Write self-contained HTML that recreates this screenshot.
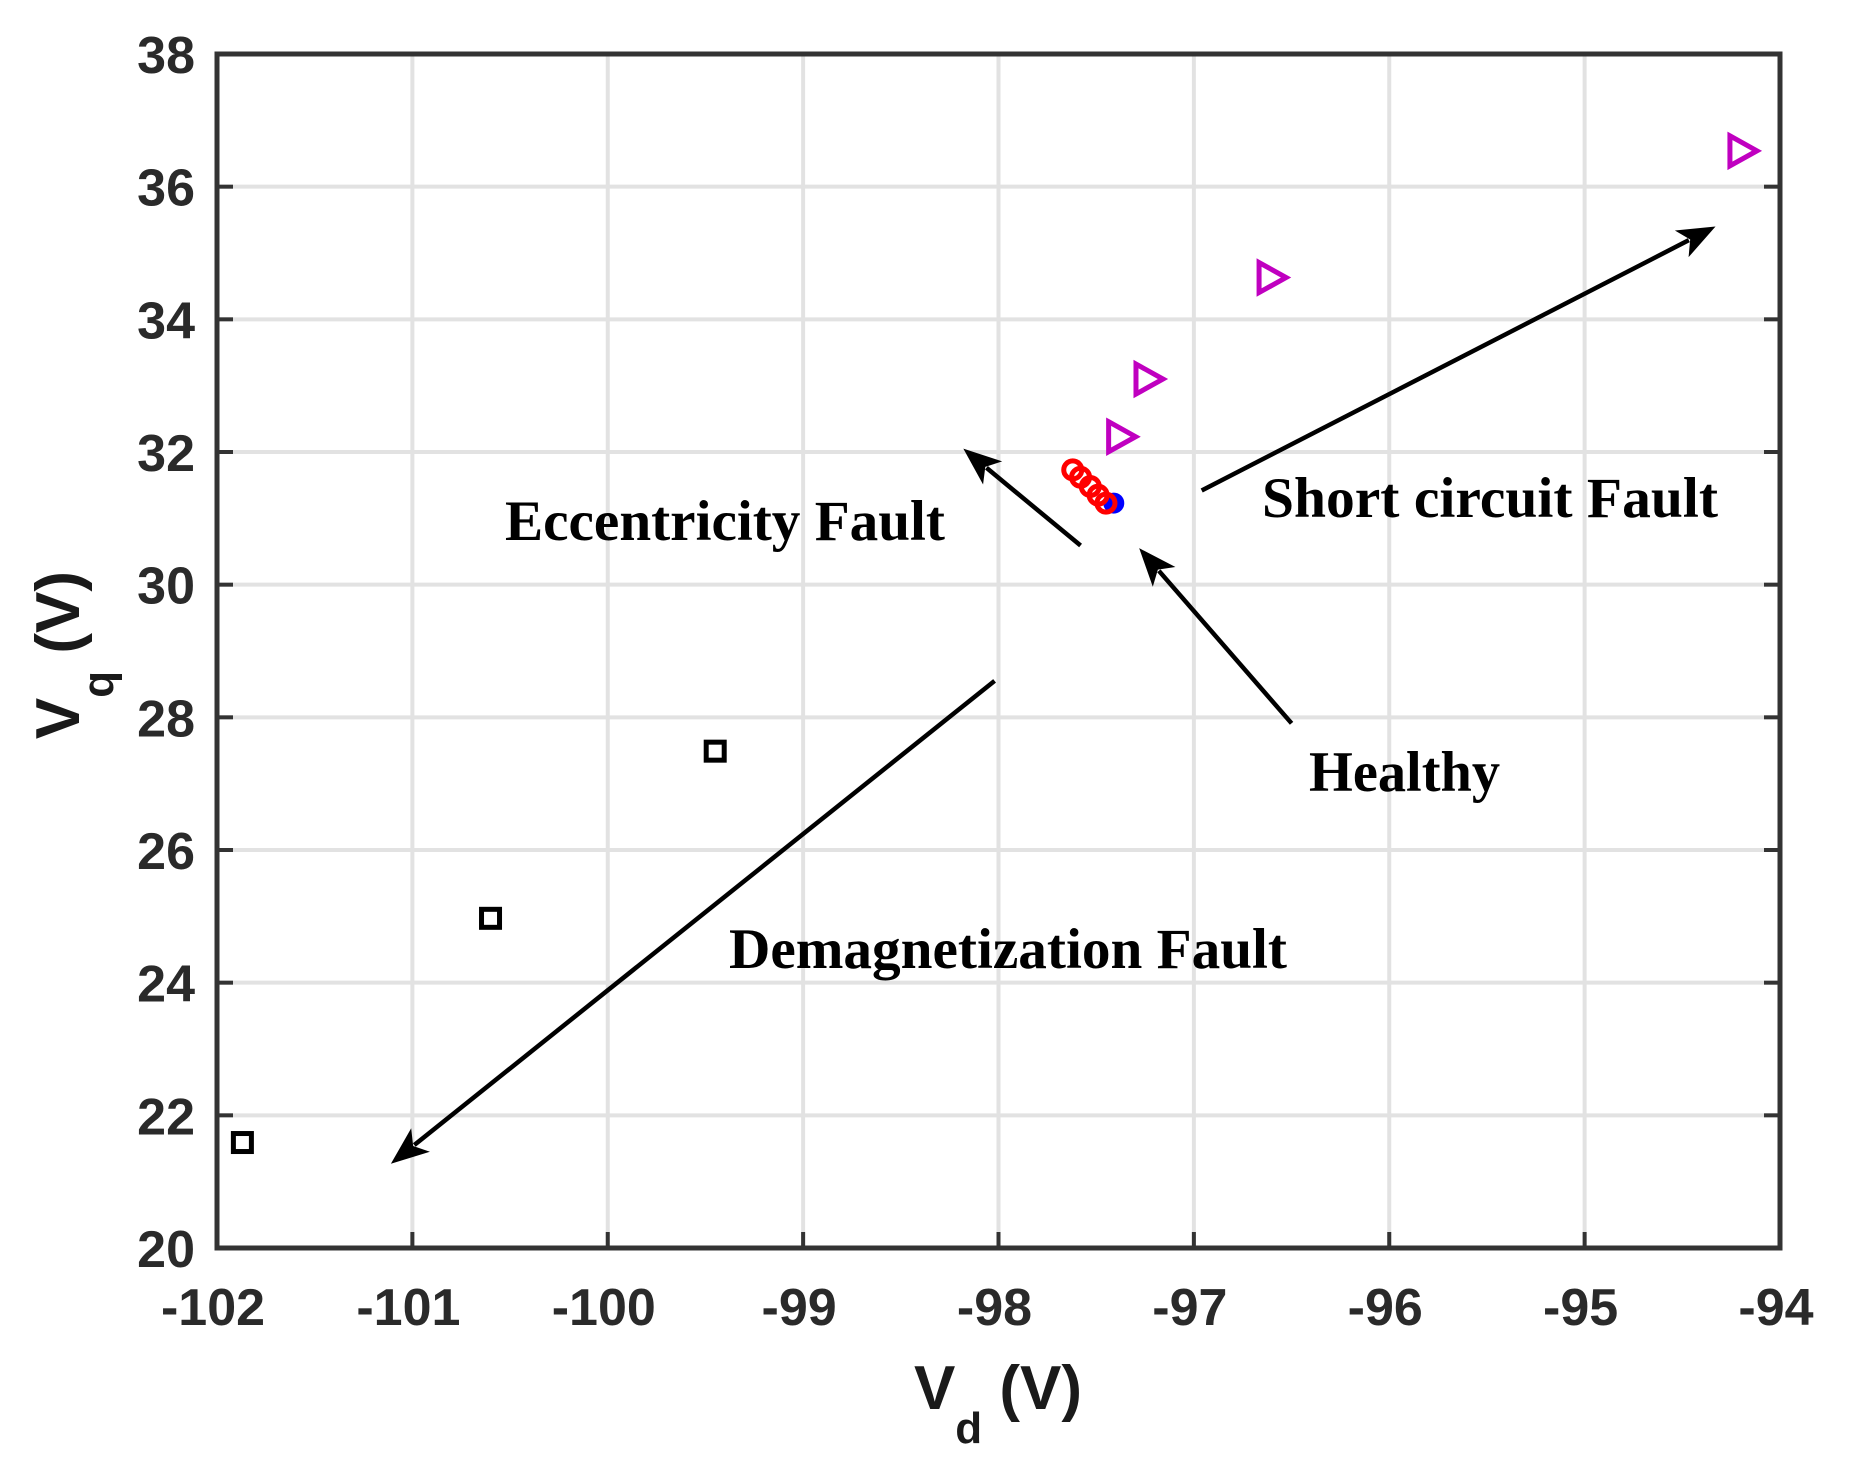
<!DOCTYPE html>
<html><head><meta charset="utf-8"><style>html,body{margin:0;padding:0;background:#fff}svg{display:block}</style></head>
<body>
<svg id="chart" width="1852" height="1472" viewBox="0 0 1852 1472" xmlns="http://www.w3.org/2000/svg">
<g id="grid"></g>
<g id="series"></g>
<g id="annot"></g>
<g id="axes"></g>
</svg>
<script>
const xTicks=[-102,-101,-100,-99,-98,-97,-96,-95,-94];
const yTicks=[20,22,24,26,28,30,32,34,36,38];
const shortX=[-94.20,-96.61,-97.24,-97.38];
const shortY=[36.54,34.63,33.10,32.23];
const demagX=[-101.87,-100.60,-99.45];
const demagY=[21.59,24.97,27.49];
const eccX=[-97.62,-97.58,-97.53,-97.49,-97.45];
const eccY=[31.73,31.62,31.48,31.35,31.23];
const healthyX=[-97.41];
const healthyY=[31.23];
const arrowLabels=["Short circuit Fault","Eccentricity Fault","Healthy","Demagnetization Fault"];
const arrowFromX=[-96.96,-97.58,-96.50,-98.02];
const arrowFromY=[31.42,30.59,27.91,28.55];
const arrowToX=[-94.33,-98.18,-97.28,-101.11];
const arrowToY=[35.40,32.05,30.55,21.27];

const L=217,R=1780,T=54,B=1248;
const xs=v=>L+(v+102)/8*(R-L);
const ys=v=>B-(v-20)/18*(B-T);
const NS="http://www.w3.org/2000/svg";
function mk(tag,attrs,parent){const e=document.createElementNS(NS,tag);for(const k in attrs)e.setAttribute(k,attrs[k]);parent.appendChild(e);return e;}
const grid=document.getElementById('grid'),series=document.getElementById('series'),annot=document.getElementById('annot'),axes=document.getElementById('axes');

xTicks.forEach(t=>{
  const g=mk('line',{x1:xs(t),x2:xs(t),y1:T,y2:B,stroke:'#e2e2e2','stroke-width':4},grid);
  
  
  const tk=mk('line',{x1:xs(t),x2:xs(t),y1:B,y2:B-16,stroke:'#333','stroke-width':4},axes);
  
  
  const tx=mk('text',{x:xs(t)-4,y:1325,'text-anchor':'middle','font-family':'Liberation Sans, sans-serif','font-weight':'bold','font-size':52,fill:'#2a2a2a'},axes);
  tx.textContent=t;
  
  
});
yTicks.forEach(t=>{
  const g=mk('line',{x1:L,x2:R,y1:ys(t),y2:ys(t),stroke:'#e2e2e2','stroke-width':4},grid);
  
  
  const tk=mk('line',{x1:L,x2:L+16,y1:ys(t),y2:ys(t),stroke:'#333','stroke-width':4},axes);
  
  
  const tk2=mk('line',{x1:R,x2:R-16,y1:ys(t),y2:ys(t),stroke:'#333','stroke-width':4},axes);
  
  
  const tx=mk('text',{x:195,y:ys(t)+19,'text-anchor':'end','font-family':'Liberation Sans, sans-serif','font-weight':'bold','font-size':52,fill:'#2a2a2a'},axes);
  tx.textContent=t;
  
  
});
const frame=mk('rect',{x:L,y:T,width:R-L,height:B-T,fill:'none',stroke:'#333','stroke-width':5},axes);



const xt=mk('text',{x:998,y:1409,'text-anchor':'middle','font-family':'Liberation Sans, sans-serif','font-weight':'bold','font-size':62,fill:'#1a1a1a'},axes);
xt.innerHTML='V<tspan dy="34" font-size="44">d</tspan><tspan dy="-34"> (V)</tspan>';


const yt=mk('text',{x:0,y:0,'text-anchor':'middle','font-family':'Liberation Sans, sans-serif','font-weight':'bold','font-size':62,fill:'#1a1a1a',transform:'translate(79,655) rotate(-90)'},axes);
yt.innerHTML='V<tspan dy="34" font-size="44">q</tspan><tspan dy="-34"> (V)</tspan>';



for(let i=0;i<demagX.length;i++){
  const cx=xs(demagX[i]),cy=ys(demagY[i]);
  const m=mk('rect',{x:cx-9,y:cy-9,width:18,height:18,fill:'none',stroke:'#000','stroke-width':5},series);
  
  
}
for(let i=0;i<shortX.length;i++){
  const cx=xs(shortX[i]),cy=ys(shortY[i]);
  const m=mk('polygon',{points:`${cx-11},${cy-15} ${cx+16},${cy} ${cx-11},${cy+15}`,fill:'none',stroke:'#c000c0','stroke-width':5},series);
  
  
}
for(let i=0;i<healthyX.length;i++){
  const m=mk('circle',{cx:xs(healthyX[i]),cy:ys(healthyY[i]),r:9,fill:'#0000ff',stroke:'#0000ff','stroke-width':3},series);
  
  
}
for(let i=0;i<eccX.length;i++){
  const m=mk('circle',{cx:xs(eccX[i]),cy:ys(eccY[i]),r:9,fill:'none',stroke:'#ff0000','stroke-width':5},series);
  
  
}

const labelPos=[[1262,517,456],[505,540,440],[1309,791,191],[729,968,558]];
const labelNames=['short-circuit-label','eccentricity-label','healthy-label','demagnetization-label'];
for(let i=0;i<arrowFromX.length;i++){
  const x1=xs(arrowFromX[i]),y1=ys(arrowFromY[i]),x2=xs(arrowToX[i]),y2=ys(arrowToY[i]);
  const a=Math.atan2(y2-y1,x2-x1),hl=38,hw=15;
  const bx=x2-hl*Math.cos(a),by=y2-hl*Math.sin(a);
  const ln=mk('line',{x1:x1,y1:y1,x2:bx+8*Math.cos(a),y2:by+8*Math.sin(a),stroke:'#000','stroke-width':4.5},annot);
  
  
  const px=-Math.sin(a),py=Math.cos(a);
  const hd=mk('polygon',{points:`${x2},${y2} ${bx+hw*px},${by+hw*py} ${bx+0.25*hl*Math.cos(a)},${by+0.25*hl*Math.sin(a)} ${bx-hw*px},${by-hw*py}`,fill:'#000'},annot);
  
  
  const p=labelPos[i];
  const t=mk('text',{x:p[0],y:p[1],textLength:p[2],lengthAdjust:'spacingAndGlyphs','font-family':'Liberation Serif, serif','font-weight':'bold','font-size':57,fill:'#000'},annot);
  t.textContent=arrowLabels[i];
  
  
}
</script>
</body></html>
